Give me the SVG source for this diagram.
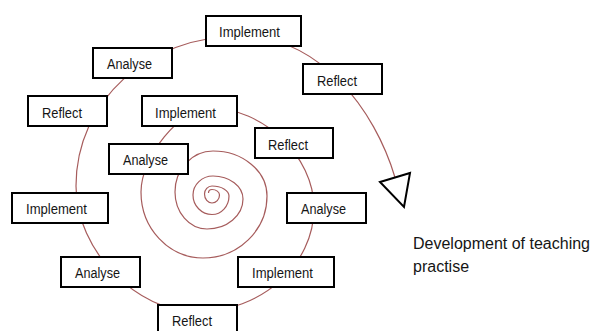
<svg xmlns="http://www.w3.org/2000/svg" width="593" height="331" viewBox="0 0 593 331">
<style>
.box{fill:#fff;stroke:#000;stroke-width:2}
.lbl{font-family:"Liberation Sans",Arial,sans-serif;font-size:15.5px;fill:#151515}
.cap{font-family:"Liberation Sans",Arial,sans-serif;font-size:16px;fill:#151515}
.spiral{fill:none;stroke:#a65c5c;stroke-width:1.2}
.arrow{fill:#fff;stroke:#000;stroke-width:2;stroke-linejoin:miter}
</style>
<rect width="593" height="331" fill="#fff"/>
<g id="connectors">
<path class="spiral" d="M 208.5 193 A 3.5 3.5 0 0 1 212 189.5 A 7.5 5.5 0 0 1 219.5 195 A 7.5 8 0 0 1 212 203 A 7.5 9 0 0 1 204.5 194 A 7.5 8 0 0 1 212 186 A 17 10 0 0 1 229 196 A 17 18.5 0 0 1 212 214.5 A 19 19.5 0 0 1 193 195 A 20 19 0 0 1 213 176 A 30 23 0 0 1 243 199 A 36 30 0 0 1 207 229 A 32 37 0 0 1 175 192 A 38 41 0 0 1 213 151 A 54 45 0 0 1 267 196 A 64 62 0 0 1 203 258 A 62 66 0 0 1 141 192 C 141 157 180 108 210 108 C 263 108 314 156 314 208 C 314 265 261 312 197 312 C 137 312 76 251 76 186 C 76 101 148 36 240 36 C 320 36 375 110 395 177.5"/>
<polygon class="arrow" points="380,182 410,173 404,207"/>
</g>
<g id="n-implement-top"><rect class="box" x="206" y="16" width="95" height="30"/><text class="lbl" x="219" y="37.3" textLength="61" lengthAdjust="spacingAndGlyphs">Implement</text></g>
<g id="n-analyse-top"><rect class="box" x="93" y="48" width="79" height="30"/><text class="lbl" x="107" y="69.3" textLength="45" lengthAdjust="spacingAndGlyphs">Analyse</text></g>
<g id="n-reflect-left"><rect class="box" x="28" y="96" width="79" height="30"/><text class="lbl" x="42" y="117.7" textLength="40" lengthAdjust="spacingAndGlyphs">Reflect</text></g>
<g id="n-implement-inner"><rect class="box" x="142" y="96" width="95" height="30"/><text class="lbl" x="155" y="117.7" textLength="61" lengthAdjust="spacingAndGlyphs">Implement</text></g>
<g id="n-analyse-inner"><rect class="box" x="109" y="144" width="79" height="30"/><text class="lbl" x="123" y="165.3" textLength="45" lengthAdjust="spacingAndGlyphs">Analyse</text></g>
<g id="n-reflect-inner"><rect class="box" x="255" y="128" width="78" height="30"/><text class="lbl" x="268" y="150" textLength="40" lengthAdjust="spacingAndGlyphs">Reflect</text></g>
<g id="n-reflect-topright"><rect class="box" x="303" y="64" width="79" height="30"/><text class="lbl" x="317" y="86" textLength="40" lengthAdjust="spacingAndGlyphs">Reflect</text></g>
<g id="n-implement-left"><rect class="box" x="12" y="193" width="96" height="30"/><text class="lbl" x="26" y="214.3" textLength="61" lengthAdjust="spacingAndGlyphs">Implement</text></g>
<g id="n-analyse-bl"><rect class="box" x="61" y="257" width="79" height="30"/><text class="lbl" x="75" y="278.3" textLength="45" lengthAdjust="spacingAndGlyphs">Analyse</text></g>
<g id="n-reflect-bottom"><rect class="box" x="158" y="305" width="79" height="30"/><text class="lbl" x="172" y="326.3" textLength="40" lengthAdjust="spacingAndGlyphs">Reflect</text></g>
<g id="n-implement-br"><rect class="box" x="238" y="257" width="96" height="30"/><text class="lbl" x="252" y="278.3" textLength="61" lengthAdjust="spacingAndGlyphs">Implement</text></g>
<g id="n-analyse-right"><rect class="box" x="287" y="193" width="79" height="30"/><text class="lbl" x="301" y="214.3" textLength="45" lengthAdjust="spacingAndGlyphs">Analyse</text></g>
<g id="caption">
<text class="cap" x="413" y="249.3">Development of teaching</text>
<text class="cap" x="413" y="271.7">practise</text>
</g>
</svg>
